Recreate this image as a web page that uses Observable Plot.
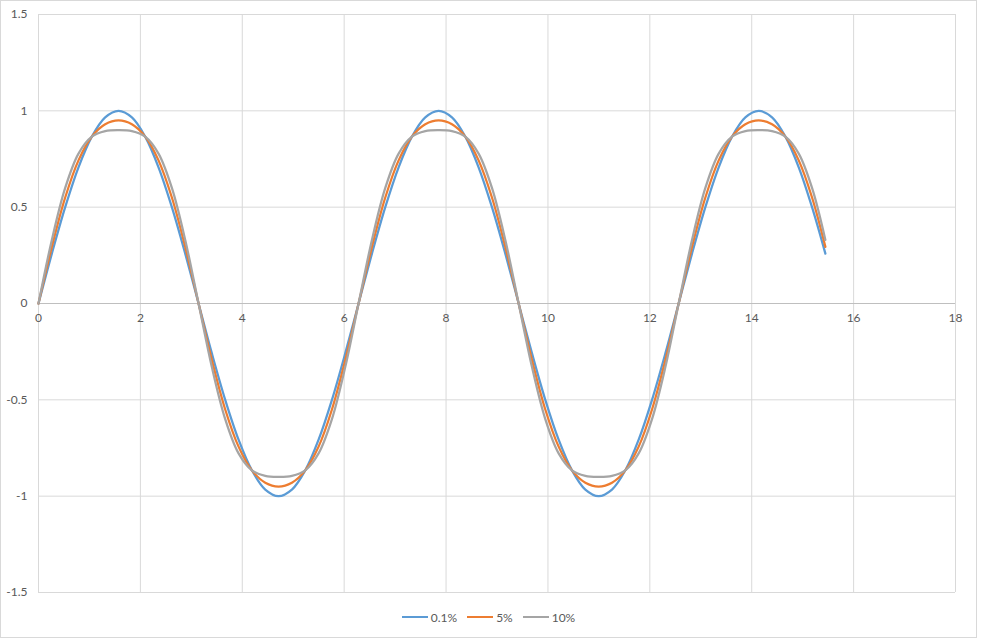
<!DOCTYPE html>
<html><head><meta charset="utf-8">
<script src="https://cdn.jsdelivr.net/npm/d3@7"></script>
<script src="https://cdn.jsdelivr.net/npm/@observablehq/plot@0.6"></script>
<style>
body{margin:0;background:#fff;font-family:Lato,"Liberation Sans",sans-serif;}
#frame{position:absolute;left:0;top:0;width:975px;height:636px;border:1px solid #d9d9d9;}
#chart{position:absolute;left:0;top:0;}
#legend{position:absolute;top:609px;left:0;width:977px;height:16px;display:flex;justify-content:center;align-items:center;font-size:12px;color:#595959;}
.item{display:flex;align-items:center;margin:0 5px;}
.sw{width:26px;height:2px;margin-right:3px;}
</style>
</head><body>
<div id="frame"></div>
<div id="chart"></div>
<div id="legend"></div>
<script>
const seriesNames = ["0.1%", "5%", "10%"];
const seriesColors = ["#5b9bd5", "#ed7d31", "#a5a5a5"];
const xTicks = [0, 2, 4, 6, 8, 10, 12, 14, 16, 18];
const yTicks = [-1.5, -1, -0.5, 0, 0.5, 1, 1.5];

const xVals = [0, 0.262, 0.524, 0.785, 1.047, 1.309, 1.571, 1.833, 2.094, 2.356, 2.618, 2.880,
  3.142, 3.403, 3.665, 3.927, 4.189, 4.451, 4.712, 4.974, 5.236, 5.498, 5.760, 6.021,
  6.283, 6.545, 6.807, 7.069, 7.330, 7.592, 7.854, 8.116, 8.378, 8.639, 8.901, 9.163,
  9.425, 9.687, 9.948, 10.210, 10.472, 10.734, 10.996, 11.257, 11.519, 11.781, 12.043, 12.305,
  12.566, 12.828, 13.090, 13.352, 13.614, 13.875, 14.137, 14.399, 14.661, 14.923, 15.184, 15.446];

const s01 = [0, 0.259, 0.5, 0.707, 0.866, 0.966, 1, 0.966, 0.866, 0.707, 0.5, 0.259,
  0, -0.259, -0.5, -0.707, -0.866, -0.966, -1, -0.966, -0.866, -0.707, -0.5, -0.259,
  0, 0.259, 0.5, 0.707, 0.866, 0.966, 1, 0.966, 0.866, 0.707, 0.5, 0.259,
  0, -0.259, -0.5, -0.707, -0.866, -0.966, -1, -0.966, -0.866, -0.707, -0.5, -0.259,
  0, 0.259, 0.5, 0.707, 0.866, 0.966, 1, 0.966, 0.866, 0.707, 0.5, 0.259];

const s5 = [0, 0.294, 0.55, 0.743, 0.866, 0.930, 0.95, 0.930, 0.866, 0.743, 0.55, 0.294,
  0, -0.294, -0.55, -0.743, -0.866, -0.930, -0.95, -0.930, -0.866, -0.743, -0.55, -0.294,
  0, 0.294, 0.55, 0.743, 0.866, 0.930, 0.95, 0.930, 0.866, 0.743, 0.55, 0.294,
  0, -0.294, -0.55, -0.743, -0.866, -0.930, -0.95, -0.930, -0.866, -0.743, -0.55, -0.294,
  0, 0.294, 0.55, 0.743, 0.866, 0.930, 0.95, 0.930, 0.866, 0.743, 0.55, 0.294];

const s10 = [0, 0.330, 0.6, 0.778, 0.866, 0.895, 0.9, 0.895, 0.866, 0.778, 0.6, 0.330,
  0, -0.330, -0.6, -0.778, -0.866, -0.895, -0.9, -0.895, -0.866, -0.778, -0.6, -0.330,
  0, 0.330, 0.6, 0.778, 0.866, 0.895, 0.9, 0.895, 0.866, 0.778, 0.6, 0.330,
  0, -0.330, -0.6, -0.778, -0.866, -0.895, -0.9, -0.895, -0.866, -0.778, -0.6, -0.330,
  0, 0.330, 0.6, 0.778, 0.866, 0.895, 0.9, 0.895, 0.866, 0.778, 0.6, 0.330];

const allSeries = [s01, s5, s10];
const rows = [];
allSeries.forEach((s, k) => s.forEach((v, i) => rows.push({x: xVals[i], y: v, series: seriesNames[k]})));

const lineMarks = seriesNames.map((name, k) =>
  Plot.line(rows.filter(r => r.series === name), {x: "x", y: "y", stroke: seriesColors[k], strokeWidth: 2.25, curve: "catmull-rom"}));

const chart = Plot.plot({
  width: 977, height: 600,
  marginLeft: 38, marginRight: 22, marginTop: 14, marginBottom: 8,
  style: {fontFamily: "Lato, 'Liberation Sans', sans-serif", fontSize: "12px", background: "transparent"},
  x: {domain: [0, 18], axis: null},
  y: {domain: [-1.5, 1.5], axis: null},
  marks: [
    Plot.ruleY(yTicks.filter(d => d !== 0), {stroke: "#d9d9d9", strokeWidth: 1}),
    Plot.ruleX(xTicks, {stroke: "#d9d9d9", strokeWidth: 1}),
    Plot.ruleY([0], {stroke: "#bfbfbf", strokeWidth: 1}),
    Plot.text(yTicks, {x: 0, y: d => d, text: d => String(d), textAnchor: "end", dx: -11, fill: "#595959", fontSize: 12}),
    Plot.text(xTicks, {x: d => d, y: 0, text: d => String(d), dy: 15, fill: "#595959", fontSize: 12}),
    ...lineMarks
  ]
});
document.getElementById("chart").appendChild(chart);

const legend = document.getElementById("legend");
seriesNames.forEach((name, k) => {
  const it = document.createElement("div");
  it.className = "item";
  const sw = document.createElement("div");
  sw.className = "sw";
  sw.style.background = seriesColors[k];
  const lb = document.createElement("span");
  lb.textContent = name;
  it.appendChild(sw); it.appendChild(lb);
  legend.appendChild(it);
});
</script>
</body></html>
